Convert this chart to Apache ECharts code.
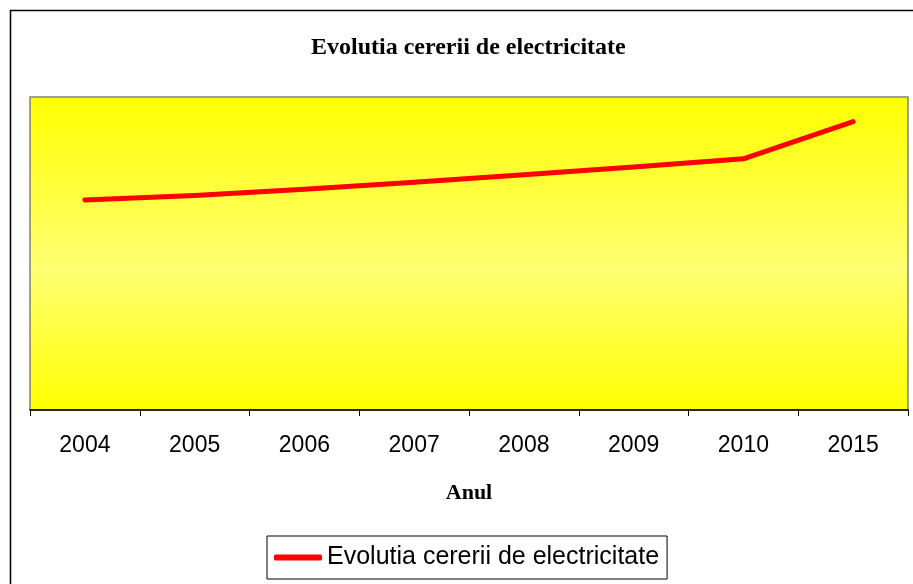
<!DOCTYPE html>
<html>
<head>
<meta charset="utf-8">
<script src="https://cdn.jsdelivr.net/npm/echarts@6/dist/echarts.min.js"></script>
<style>
  html, body { margin: 0; padding: 0; background: #fff; }
  #main { width: 913px; height: 584px; }
</style>
</head>
<body>
<div id="main"></div>
<script>
// date
var years = ['2004', '2005', '2006', '2007', '2008', '2009', '2010', '2015'];
var demand = [53.7, 54.8, 56.4, 58.2, 60.1, 62.1, 64.2, 73.7];
var seriesName = 'Evolutia cererii de electricitate';

var myChart = echarts.init(document.getElementById('main'));

var option = {
  animation: false,
  title: {
    text: 'Evolutia cererii de electricitate',
    left: 306,
    top: 31,
    textStyle: {
      fontFamily: 'Liberation Serif',
      fontWeight: 'bold',
      fontSize: 24,
      color: '#000'
    }
  },
  graphic: [
    { // rama exterioara
      type: 'rect',
      shape: { x: 10.5, y: 10.5, width: 1000, height: 1000 },
      style: { fill: null, stroke: '#000', lineWidth: 1.5 },
      silent: true
    }
  ],
  grid: {
    left: 30,
    right: 5,
    top: 97,
    bottom: 174,
    show: true,
    borderColor: '#808080',
    borderWidth: 1.5,
    backgroundColor: new echarts.graphic.LinearGradient(0, 0, 0, 1, [
      { offset: 0, color: '#ffff00' },
      { offset: 0.55, color: '#ffff72' },
      { offset: 1, color: '#ffff00' }
    ])
  },
  legend: {
    data: [seriesName],
    bottom: 5,
    left: 267,
    borderColor: '#000',
    borderWidth: 1,
    padding: [9, 8, 9, 7],
    itemWidth: 48,
    itemHeight: 6,
    itemGap: 6,
    icon: 'roundRect',
    textStyle: {
      fontFamily: 'Liberation Sans',
      fontSize: 25,
      color: '#000'
    }
  },
  xAxis: {
    type: 'category',
    data: years,
    boundaryGap: true,
    name: 'Anul',
    nameLocation: 'middle',
    nameGap: 72,
    nameTextStyle: {
      fontFamily: 'Liberation Serif',
      fontWeight: 'bold',
      fontSize: 22,
      color: '#000'
    },
    axisLine: { lineStyle: { color: '#000', width: 1.5 } },
    axisTick: { show: true, length: 6, lineStyle: { color: '#000' } },
    axisLabel: {
      margin: 24,
      fontFamily: 'Liberation Sans',
      fontSize: 23,
      color: '#000'
    }
  },
  yAxis: {
    type: 'value',
    min: 0,
    max: 80,
    show: false,
    splitLine: { show: false }
  },
  series: [
    {
      name: seriesName,
      type: 'line',
      data: demand,
      showSymbol: false,
      symbol: 'none',
      lineStyle: { color: '#ff0000', width: 5, cap: 'round', join: 'round' },
      itemStyle: { color: '#ff0000' }
    }
  ]
};

myChart.setOption(option);
</script>
</body>
</html>
